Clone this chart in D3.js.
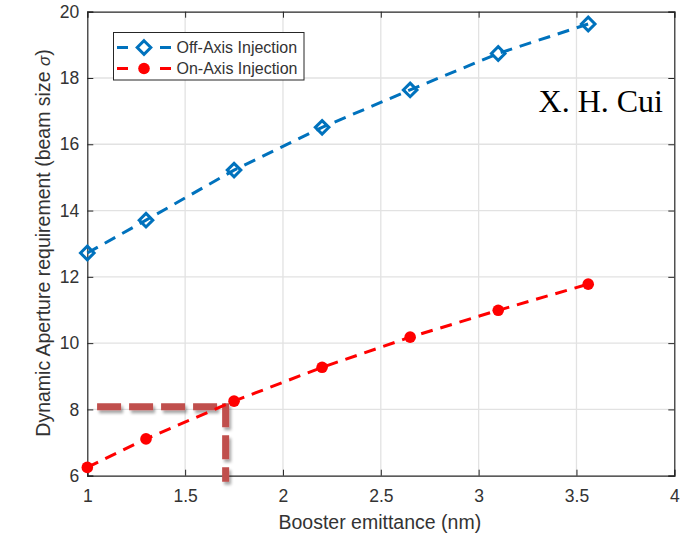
<!DOCTYPE html>
<html><head><meta charset="utf-8">
<script src="https://cdn.jsdelivr.net/npm/d3@7"></script>
<style>body{margin:0;background:#fff}svg{display:block}</style>
</head><body>
<svg id="c" width="691" height="535"></svg>
<script>
const emittance = [1.0, 1.3, 1.75, 2.2, 2.65, 3.1, 3.56];
const offAxis = [12.72, 13.71, 15.22, 16.51, 17.64, 18.74, 19.63];
const onAxis = [6.25, 7.11, 8.25, 9.27, 10.18, 10.99, 11.78];
const seriesNames = ["Off-Axis Injection", "On-Axis Injection"];
const xTicks = [1, 1.5, 2, 2.5, 3, 3.5, 4];
const yTicks = [6, 8, 10, 12, 14, 16, 18, 20];
const guideX = [1.05, 1.707];
const guideY = 8.08;

const svg = d3.select("#c");
const L = 87.3, R = 674.3, T = 11.7, B = 475.7;
const x = d3.scaleLinear().domain([1, 4]).range([L, R]);
const y = d3.scaleLinear().domain([6, 20]).range([B, T]);
const font = "'Liberation Sans', Arial, Helvetica, sans-serif";
const axisCol = "#262626";

const defs = svg.append("defs");
const f = defs.append("filter").attr("id", "sh").attr("x", "-20%").attr("y", "-50%").attr("width", "140%").attr("height", "200%");
f.append("feGaussianBlur").attr("in", "SourceAlpha").attr("stdDeviation", 1.5).attr("result", "b");
f.append("feOffset").attr("in", "b").attr("dx", 1.5).attr("dy", 3).attr("result", "o");
f.append("feComponentTransfer").attr("in", "o").attr("result", "o2")
  .append("feFuncA").attr("type", "linear").attr("slope", 0.35);
const m = f.append("feMerge");
m.append("feMergeNode").attr("in", "o2");
m.append("feMergeNode").attr("in", "SourceGraphic");

// grid
const g = svg.append("g");
g.selectAll(".gx").data(xTicks.slice(1, -1)).join("line")
  .attr("x1", d => x(d)).attr("x2", d => x(d)).attr("y1", T).attr("y2", B)
  .attr("stroke", "#e2e2e2").attr("stroke-width", 1.3);
g.selectAll(".gy").data(yTicks.slice(1, -1)).join("line")
  .attr("y1", d => y(d)).attr("y2", d => y(d)).attr("x1", L).attr("x2", R)
  .attr("stroke", "#e2e2e2").attr("stroke-width", 1.3);

// axes
const ax = svg.append("g").attr("transform", `translate(0,${B})`)
  .call(d3.axisBottom(x).tickValues(xTicks).tickSize(-6).tickPadding(14).tickFormat(d3.format("")));
const ay = svg.append("g").attr("transform", `translate(${L},0)`)
  .call(d3.axisLeft(y).tickValues(yTicks).tickSize(-6).tickPadding(8));
const axT = svg.append("g").attr("transform", `translate(0,${T})`)
  .call(d3.axisTop(x).tickValues(xTicks).tickSize(-6).tickFormat(""));
const ayR = svg.append("g").attr("transform", `translate(${R},0)`)
  .call(d3.axisRight(y).tickValues(yTicks).tickSize(-6).tickFormat(""));
[ax, ay, axT, ayR].forEach(a => {
  a.select(".domain").attr("stroke", axisCol).attr("stroke-width", 1.2);
  a.selectAll(".tick line").attr("stroke", axisCol);
  a.selectAll(".tick text").attr("fill", "#333").attr("font-size", 17.5).attr("font-family", font);
});
ax.selectAll(".tick text").attr("dy", "0.71em");

// axis labels
svg.append("text").attr("x", (L + R) / 2 - 1).attr("y", 529).attr("text-anchor", "middle")
  .attr("font-family", font).attr("font-size", 19.5).attr("fill", "#333")
  .text("Booster emittance (nm)");
const yl = svg.append("text").attr("transform", `translate(49.5,243) rotate(-90)`)
  .attr("text-anchor", "middle").attr("font-family", font).attr("font-size", 19.5).attr("fill", "#333");
yl.append("tspan").text("Dynamic Aperture requirement (beam size ");
yl.append("tspan").attr("font-style", "italic").attr("font-size", 17).text("σ");
yl.append("tspan").text(")");

const line = d3.line().x(d => x(d[0])).y(d => y(d[1]));
const offPts = emittance.map((e, i) => [e, offAxis[i]]);
const onPts = emittance.map((e, i) => [e, onAxis[i]]);

// guide lines (brown)
const gp = svg.append("g").attr("filter", "url(#sh)");
gp.append("path").attr("d", `M${x(guideX[0])},${y(guideY)}H${x(guideX[1])}`)
  .attr("stroke", "#c0504d").attr("stroke-width", 7).attr("fill", "none").attr("stroke-dasharray", "24,8");
gp.append("path").attr("d", `M${x(guideX[1])},${y(guideY) - 3.5}V${B + 6}`)
  .attr("stroke", "#c0504d").attr("stroke-width", 7).attr("fill", "none").attr("stroke-dasharray", "24,8");

// series
const blue = "#0072BD", red = "#FF0000";
svg.append("path").attr("d", line(offPts)).attr("fill", "none").attr("stroke", blue)
  .attr("stroke-width", 3).attr("stroke-dasharray", "12,8");
svg.append("path").attr("d", line(onPts)).attr("fill", "none").attr("stroke", red)
  .attr("stroke-width", 3).attr("stroke-dasharray", "12,8");
const diamond = s => `M0,${-s}L${s},0L0,${s}L${-s},0Z`;
svg.selectAll(".dm").data(offPts).join("path")
  .attr("transform", d => `translate(${x(d[0])},${y(d[1])})`)
  .attr("d", diamond(6.8)).attr("fill", "none").attr("stroke", blue).attr("stroke-width", 3);
svg.selectAll(".ci").data(onPts).join("circle")
  .attr("cx", d => x(d[0])).attr("cy", d => y(d[1])).attr("r", 5.8).attr("fill", red);

// legend
const lg = svg.append("g");
lg.append("rect").attr("x", 113.5).attr("y", 32.5).attr("width", 190.5).attr("height", 47.5)
  .attr("fill", "#fff").attr("stroke", axisCol).attr("stroke-width", 1);
const rows = [{name: seriesNames[0], col: blue, y: 47.5, mk: "d"}, {name: seriesNames[1], col: red, y: 68.5, mk: "c"}];
rows.forEach(r => {
  [[117, 128], [160, 171]].forEach(s => lg.append("line").attr("x1", s[0]).attr("x2", s[1])
    .attr("y1", r.y).attr("y2", r.y).attr("stroke", r.col).attr("stroke-width", 3));
  if (r.mk === "d") lg.append("path").attr("transform", `translate(144,${r.y})`).attr("d", diamond(6.8))
    .attr("fill", "none").attr("stroke", r.col).attr("stroke-width", 3);
  else lg.append("circle").attr("cx", 144).attr("cy", r.y).attr("r", 5.8).attr("fill", r.col);
  lg.append("text").attr("x", 176.5).attr("y", r.y + 5.5).attr("font-family", font).attr("font-size", 16)
    .attr("fill", "#333").text(r.name);
});

svg.append("text").attr("x", 663).attr("y", 112).attr("text-anchor", "end")
  .attr("font-family", "'Liberation Serif', 'Times New Roman', serif").attr("font-size", 32).attr("fill", "#000")
  .text("X. H. Cui");
</script>
</body></html>
